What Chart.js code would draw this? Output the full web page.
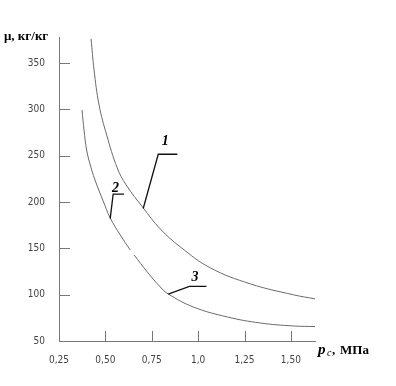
<!DOCTYPE html>
<html>
<head>
<meta charset="utf-8">
<script src="https://cdn.jsdelivr.net/npm/chart.js@4.4.0/dist/chart.umd.min.js"></script>
<style>
  html, body { margin: 0; padding: 0; background: #fff; }
  #wrap { width: 396px; height: 386px; position: relative; }
</style>
</head>
<body>
<div id="wrap"><canvas id="grafico"></canvas></div>
<script>
// кривая 1
const p1  = [0.423, 0.439, 0.466, 0.507, 0.564, 0.612, 0.704, 0.796, 0.904, 1.066, 1.282, 1.515, 1.63];
const mu1 = [375.9, 342.4, 304.6, 272.3, 236.7, 218.4, 193.6, 170.9, 151.5, 128.9, 111.6, 99.8, 95.5];
// кривая 2
const p2  = [0.374, 0.385, 0.399, 0.423, 0.450, 0.488, 0.526, 0.580, 0.634];
const mu2 = [299.2, 277.6, 256.1, 236.7, 220.5, 201.1, 182.8, 164.5, 148.2];
// кривая 3
const p3  = [0.655, 0.726, 0.796, 0.839, 0.974, 1.158, 1.336, 1.515, 1.63];
const mu3 = [142.8, 124.4, 108.3, 100.7, 86.7, 75.9, 69.4, 66.2, 65.6];

const xTickLabels = {0.25: '0,25', 0.5: '0,50', 0.75: '0,75', 1: '1,0', 1.25: '1,25', 1.5: '1,50'};

// выноски: точка на кривой, излом, конец полки, подпись
const leaderNames = ['1', '2', '3'];
const leaderP  = [[0.704, 0.785, 0.888], [0.526, 0.542, 0.601], [0.839, 0.953, 1.045]];
const leaderMu = [[193, 251.5, 251.5], [182, 208.4, 208.4], [100.6, 109, 109]];
const labelP   = [0.823, 0.555, 0.983];
const labelMu  = [261, 211, 115];

const toPts = (xs, ys) => xs.map((x, i) => ({x: x, y: ys[i]}));

const curveStyle = {
    showLine: true,
    borderColor: '#6a6a6a',
    borderWidth: 1,
    pointRadius: 0,
    tension: 0.4,
    fill: false
};

const ticksInside = {
    id: 'ticksInside',
    afterDatasetsDraw(chart) {
        const ctx = chart.ctx;
        const xs = chart.scales.x, ys = chart.scales.y;
        const area = chart.chartArea;
        ctx.save();
        ctx.strokeStyle = '#777';
        ctx.lineWidth = 1;
        ctx.beginPath();
        ys.ticks.forEach(t => {
            if (t.value <= ys.min) return;
            const y = Math.round(ys.getPixelForValue(t.value)) + 0.5;
            ctx.moveTo(area.left, y);
            ctx.lineTo(area.left + 11, y);
        });
        xs.ticks.forEach(t => {
            if (t.value <= xs.min + 1e-6) return;
            const x = Math.round(xs.getPixelForValue(t.value)) + 0.5;
            ctx.moveTo(x, area.bottom);
            ctx.lineTo(x, area.bottom - 10);
        });
        ctx.stroke();

        // выноски
        ctx.strokeStyle = '#111';
        ctx.lineWidth = 1.3;
        leaderP.forEach((ps, k) => {
            ctx.beginPath();
            ps.forEach((p, i) => {
                const x = xs.getPixelForValue(p), y = ys.getPixelForValue(leaderMu[k][i]);
                if (i === 0) ctx.moveTo(x, y); else ctx.lineTo(x, y);
            });
            ctx.stroke();
        });
        ctx.fillStyle = '#000';
        ctx.font = 'italic bold 14px "Liberation Serif", serif';
        ctx.textAlign = 'center';
        ctx.textBaseline = 'alphabetic';
        leaderNames.forEach((n, k) => {
            ctx.fillText(n, xs.getPixelForValue(labelP[k]), ys.getPixelForValue(labelMu[k]));
        });

        // подписи осей
        ctx.textAlign = 'left';
        ctx.font = 'bold 13px "Liberation Serif", serif';
        ctx.fillText('μ, кг/кг', 4, 40);
        ctx.font = 'italic bold 15px "Liberation Serif", serif';
        ctx.fillText('p', 318, 354);
        ctx.font = 'italic 10px "Liberation Serif", serif';
        ctx.fillText('c', 327, 356);
        ctx.font = 'bold 13px "Liberation Serif", serif';
        ctx.fillText(',', 332, 354);
        ctx.fillText('МПа', 340, 354);
        ctx.restore();
    }
};

const tickFont = {family: '"DejaVu Sans Condensed", "Liberation Sans Narrow", sans-serif', size: 10};

new Chart(document.getElementById('grafico'), {
    type: 'scatter',
    data: {
        datasets: [
            Object.assign({label: '1', data: toPts(p1, mu1)}, curveStyle),
            Object.assign({label: '2', data: toPts(p2, mu2)}, curveStyle),
            Object.assign({label: '3', data: toPts(p3, mu3)}, curveStyle)
        ]
    },
    options: {
        responsive: true,
        maintainAspectRatio: false,
        animation: false,
        layout: {padding: {top: 37, right: 81, left: 0, bottom: 0}},
        plugins: {legend: {display: false}, tooltip: {enabled: false}},
        scales: {
            x: {
                type: 'linear',
                min: 0.25,
                max: 1.63,
                afterFit: s => { s.height = 45; },
                grid: {display: false},
                border: {display: true, color: '#777', width: 1},
                ticks: {
                    stepSize: 0.25,
                    includeBounds: false,
                    padding: 5,
                    color: '#444',
                    font: tickFont,
                    maxRotation: 0,
                    callback: v => xTickLabels[v] !== undefined ? xTickLabels[v] : ''
                }
            },
            y: {
                min: 50,
                max: 378,
                afterFit: s => { s.width = 59; },
                grid: {display: false},
                border: {display: true, color: '#777', width: 1},
                ticks: {
                    stepSize: 50,
                    includeBounds: false,
                    padding: 6,
                    color: '#444',
                    font: tickFont
                }
            }
        }
    },
    plugins: [ticksInside]
});
</script>
</body>
</html>
